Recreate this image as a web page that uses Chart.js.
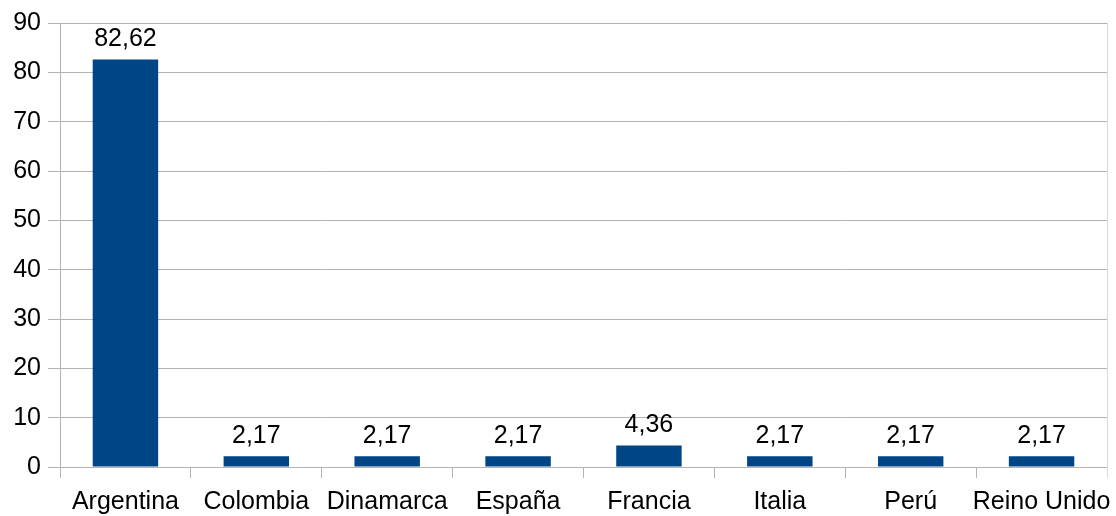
<!DOCTYPE html>
<html>
<head>
<meta charset="utf-8">
<script src="https://cdn.jsdelivr.net/npm/chart.js@4/dist/chart.umd.min.js"></script>
<style>
  html, body { margin: 0; padding: 0; background: #fff; }
  canvas { display: block; }
</style>
</head>
<body>
<canvas id="grafico" width="1116" height="516"></canvas>
<script>
// datos del gráfico
const paises = ['Argentina', 'Colombia', 'Dinamarca', 'España', 'Francia', 'Italia', 'Perú', 'Reino Unido'];
const porcentajes = [82.62, 2.17, 2.17, 2.17, 4.36, 2.17, 2.17, 2.17];
const ejeY = { min: 0, max: 90, paso: 10 };

const FUENTE = '"Liberation Sans", Arial, sans-serif';
const GRIS = '#b3b3b3';

// etiquetas de valor encima de cada barra
const etiquetasValor = {
  id: 'etiquetasValor',
  afterDatasetsDraw(chart) {
    const ctx = chart.ctx;
    const meta = chart.getDatasetMeta(0);
    ctx.save();
    ctx.font = '25px ' + FUENTE;
    ctx.fillStyle = '#000';
    ctx.textAlign = 'center';
    ctx.textBaseline = 'alphabetic';
    meta.data.forEach((barra, i) => {
      const texto = porcentajes[i].toFixed(2).replace('.', ',');
      ctx.fillText(texto, barra.x, barra.y - 13);
    });
    ctx.restore();
  }
};

// línea vertical clara en el borde derecho
const bordeDerecho = {
  id: 'bordeDerecho',
  beforeDatasetsDraw(chart) {
    const { ctx, chartArea } = chart;
    ctx.save();
    ctx.strokeStyle = '#d9d9d9';
    ctx.lineWidth = 1;
    ctx.beginPath();
    ctx.moveTo(chartArea.right + 0.5, chartArea.top);
    ctx.lineTo(chartArea.right + 0.5, chartArea.bottom + 11);
    ctx.stroke();
    ctx.restore();
  }
};

new Chart(document.getElementById('grafico').getContext('2d'), {
  type: 'bar',
  data: {
    labels: paises,
    datasets: [{
      data: porcentajes,
      backgroundColor: '#004586',
      barPercentage: 0.5,
      categoryPercentage: 1.0
    }]
  },
  options: {
    responsive: false,
    animation: false,
    layout: { padding: { top: 23, right: 9, left: 0, bottom: 0 } },
    plugins: { legend: { display: false }, tooltip: { enabled: false } },
    scales: {
      x: {
        offset: true,
        grid: { offset: true, drawOnChartArea: false, color: GRIS, tickLength: 11 },
        border: { color: GRIS },
        ticks: { color: '#000', font: { family: FUENTE, size: 25 }, padding: 9, maxRotation: 0, autoSkip: false },
        afterFit(scale) {
          scale.height = 49;
          // el texto "Reino Unido" puede salirse del área, como en el original
          scale.paddingLeft = 0;
          scale.paddingRight = 0;
        }
      },
      y: {
        min: ejeY.min,
        max: ejeY.max,
        grid: { color: GRIS, tickLength: 12 },
        border: { color: GRIS },
        ticks: { stepSize: ejeY.paso, color: '#000', font: { family: FUENTE, size: 25 }, padding: 7 },
        afterFit(scale) {
          scale.width = 60;
          scale.paddingTop = 0;
          scale.paddingBottom = 0;
        }
      }
    }
  },
  plugins: [etiquetasValor, bordeDerecho]
});
</script>
</body>
</html>
